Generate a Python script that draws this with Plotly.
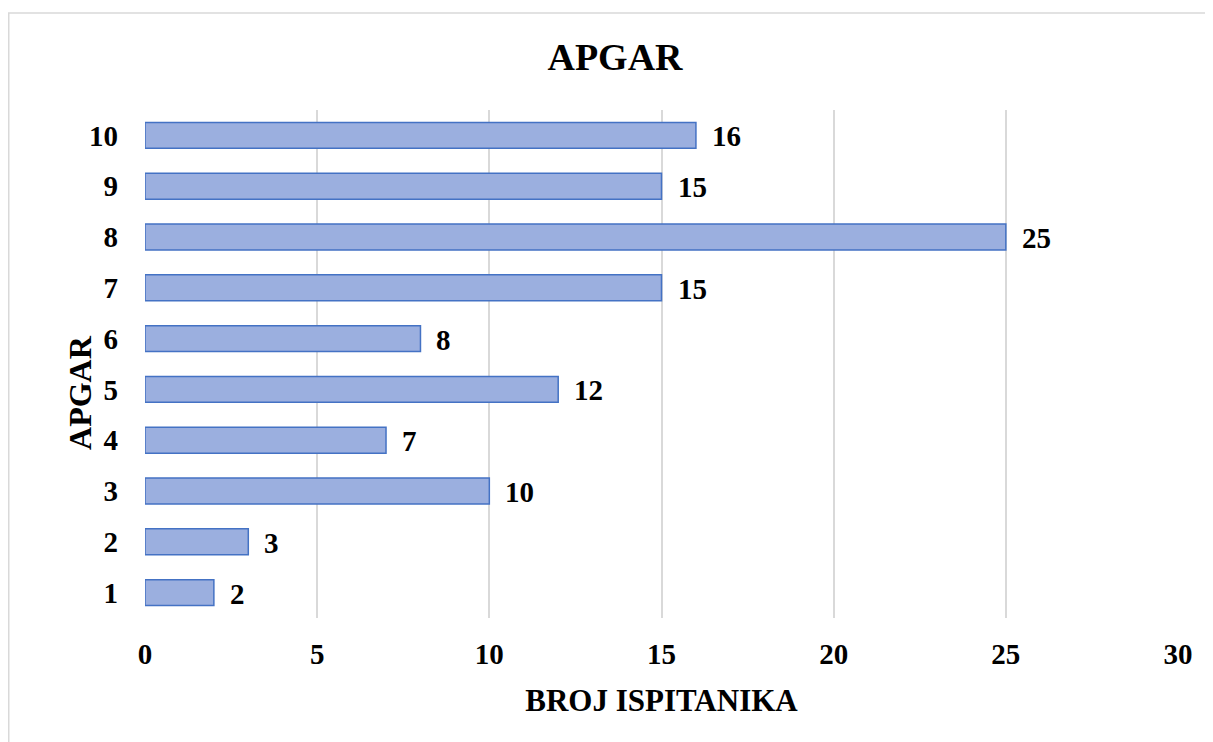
import plotly.graph_objects as go

categories = ["1", "2", "3", "4", "5", "6", "7", "8", "9", "10"]
values = [2, 3, 10, 7, 12, 8, 15, 25, 15, 16]
x_ticks = [0, 5, 10, 15, 20, 25, 30]

FONT = "Liberation Serif"

fig = go.Figure()
fig.add_trace(go.Bar(
    x=values, y=categories, orientation="h",
    width=0.51,
    marker=dict(color="#9BAFDF", line=dict(color="#4472C4", width=1.5)),
    hoverinfo="x+y",
))

for i, v in enumerate(values):
    fig.add_annotation(x=v, y=i, text="<b>%d</b>" % v, showarrow=False,
                       xanchor="left", xshift=14, yshift=-1,
                       font=dict(family=FONT, size=29, color="black"))

# y-axis title placed like the reference
fig.add_annotation(x=-0.0629, y=0.443, xref="paper", yref="paper",
                   text="<b>APGAR</b>", textangle=-90, showarrow=False,
                   xanchor="center", yanchor="middle",
                   font=dict(family=FONT, size=32, color="black"))

# outer chart border
fig.add_shape(type="rect", xref="paper", yref="paper",
              x0=-0.1319, y0=-0.4, x1=1.2, y1=1.191,
              line=dict(color="#D9D9D9", width=1.5), layer="below")

fig.update_layout(
    width=1213, height=742,
    margin=dict(l=137, r=43, t=102, b=132),
    paper_bgcolor="white", plot_bgcolor="white",
    showlegend=False,
    title=dict(text="<b>APGAR</b>", x=607 / 1213, xanchor="center", y=0.934, yanchor="middle",
               font=dict(family=FONT, size=38, color="black")),
    font=dict(family=FONT, color="black"),
    xaxis=dict(range=[0, 30], tickvals=x_ticks, ticktext=["<b>%d</b>" % t for t in x_ticks],
               showgrid=True, gridcolor="#D9D9D9", gridwidth=1.5,
               zeroline=False, showline=False,
               tickfont=dict(family=FONT, size=29, color="black"),
               ticklabelstandoff=16,
               title=dict(text="<b>BROJ ISPITANIKA</b>", standoff=20,
                          font=dict(family=FONT, size=31, color="black"))),
    yaxis=dict(categoryorder="array", categoryarray=categories,
               range=[-0.5, 9.5],
               tickvals=categories, ticktext=["<b>%s</b>" % c for c in categories],
               showgrid=False, zeroline=False, showline=False,
               tickfont=dict(family=FONT, size=29, color="black"),
               ticklabelstandoff=26),
)

fig.write_html("out.html")
